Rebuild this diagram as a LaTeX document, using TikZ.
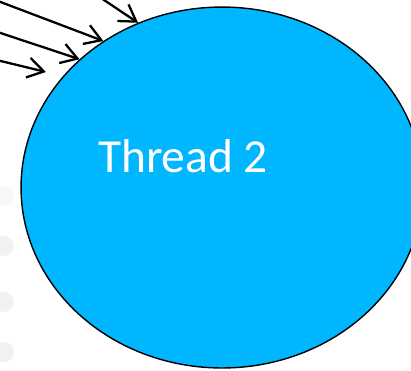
\documentclass[tikz,border=0pt]{standalone}
\usepackage{fontspec}
\newfontfamily\labelfont{Carlito}
\usetikzlibrary{shapes.geometric, arrows.meta}
\definecolor{threadblue}{RGB}{0,183,255}
\tikzstyle{thread} = [ellipse, minimum width=8.04cm, minimum height=7.22cm, inner sep=0pt, draw=black, line width=0.8pt, fill=threadblue]
\tikzstyle{arrow} = [line width=1.3pt, -{Straight Barb[length=0.32cm, width=0.4cm]}]
\tikzstyle{dot} = [circle, minimum size=0.4cm, inner sep=0pt, fill=gray!11]

\begin{document}
\begin{tikzpicture}[x=0.02cm, y=-0.02cm]
\useasboundingbox (0,0) rectangle (411,370);
\clip (0,0) rectangle (411,370);

% punti di sfondo
\node (d1) [dot, fill=gray!6] at (4,196) {};
\foreach \n/\yy in {2/246, 3/302, 4/352}
  \node (d\n) [dot] at (4,\yy) {};

% thread
\node (t2) [thread] at (222,187.5) {};
\node (lbl) [text=white, inner sep=0pt] at (183,156) {\labelfont\fontsize{27}{30}\selectfont Thread 2};

% frecce in ingresso
\coordinate (in1) at (89,-10);
\coordinate (in2) at (-10,-2);
\coordinate (in3) at (-10,29.5);
\coordinate (in4) at (-10,58.4);

\draw [arrow] (in1) -- (t2.117.5);
\draw [arrow] (in2) -- (t2.129.4);
\draw [arrow] (in3) -- (t2.138.5);
\draw [arrow, shorten >=0.35cm] (in4) -- (t2.145.3);

\end{tikzpicture}
\end{document}
